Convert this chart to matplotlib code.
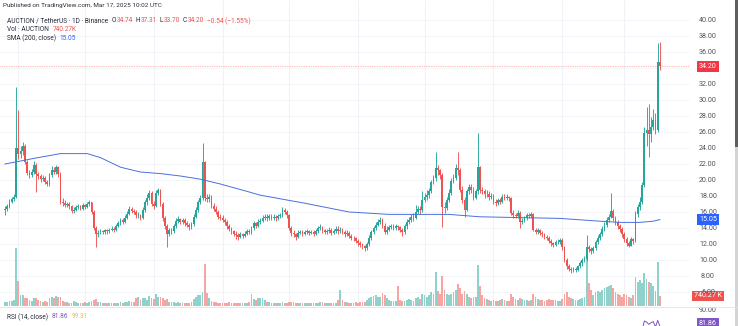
import matplotlib
matplotlib.use("Agg")
import matplotlib.pyplot as plt
import numpy as np
import pandas as pd
from matplotlib.patches import Rectangle

# ---------------- data ----------------
end_date = "2025-03-17"
first_open = 16.2

closes = [
    16.4, 16.7, 17.3, 17.6, 17.9, 24.0, 23.2, 23.6, 24.2, 22.2,
    20.9, 20.6, 21.0, 21.9, 20.8, 20.5, 20.1, 20.3, 19.8, 19.5,
    20.6, 21.3, 21.0, 21.6, 20.8, 17.3, 17.1, 16.9, 17.0, 16.7,
    16.1, 16.3, 16.6, 16.7, 16.4, 16.9, 16.6, 17.0, 17.2, 16.0,
    14.0, 13.2, 13.4, 13.6, 13.5, 13.7, 13.6, 13.8, 13.9, 13.8,
    14.3, 14.6, 15.0, 14.8, 15.3, 15.8, 16.4, 16.1, 16.0, 15.6,
    15.6, 15.3, 16.3, 17.2, 17.8, 18.4, 17.0, 16.8, 18.4, 18.7,
    17.0, 15.2, 14.2, 13.3, 13.7, 13.6, 14.2, 14.9, 15.1, 14.8,
    15.0, 14.6, 14.4, 14.1, 14.5, 15.4, 16.3, 17.2, 17.8, 22.2,
    17.8, 17.6, 17.9, 16.8, 16.4, 16.0, 15.4, 15.3, 15.0, 14.7,
    14.2, 13.9, 13.6, 13.3, 13.1, 12.9, 13.2, 13.0, 13.3, 13.6,
    13.5, 14.0, 14.6, 14.3, 14.8, 14.9, 15.3, 15.4, 15.2, 15.5,
    15.3, 15.4, 15.2, 15.5, 15.6, 16.3, 16.0, 15.6, 14.0, 13.4,
    13.2, 12.9, 13.4, 13.5, 13.3, 13.5, 13.6, 13.4, 13.5, 13.3,
    13.6, 14.0, 14.1, 13.7, 13.5, 13.6, 13.8, 13.4, 13.6, 13.9,
    13.6, 13.8, 13.5, 13.2, 13.4, 13.0, 12.8, 12.7, 12.4, 12.1,
    11.9, 11.7, 11.5, 12.0, 12.8, 13.5, 14.0, 14.4, 14.8, 15.0,
    14.3, 13.5, 13.8, 14.1, 14.2, 14.0, 14.2, 14.1, 13.8, 13.5,
    14.2, 14.8, 15.0, 15.4, 15.3, 16.0, 16.4, 16.2, 17.5, 17.9,
    18.1, 18.6, 19.7, 20.2, 21.5, 21.2, 20.6, 16.6, 16.5, 17.5,
    18.4, 19.9, 20.3, 21.5, 21.2, 18.8, 17.5, 16.3, 18.6, 19.1,
    18.8, 17.8, 18.6, 21.6, 18.8, 18.6, 18.2, 18.3, 17.9, 18.0,
    17.3, 17.1, 17.5, 17.3, 17.9, 17.8, 17.9, 17.7, 15.9, 15.6,
    15.5, 15.9, 14.7, 14.9, 15.2, 15.6, 15.5, 15.7, 13.8, 13.5,
    13.7, 13.4, 13.2, 12.9, 12.8, 12.4, 12.1, 11.9, 12.2, 12.3,
    12.5, 11.6, 10.0, 9.2, 8.9, 8.7, 8.8, 8.8, 9.2, 9.6,
    10.0, 10.1, 11.6, 11.4, 11.1, 11.5, 12.2, 12.8, 13.2, 13.9,
    14.4, 15.0, 15.4, 16.1, 15.2, 14.7, 14.2, 13.9, 13.2, 12.6,
    12.1, 11.8, 12.6, 12.4, 15.8, 16.6, 17.3, 19.4, 25.9, 26.3,
    25.7, 26.6, 27.5, 26.3, 34.74, 34.20,
]

highs = [
    16.7, 17.0, 17.6, 17.9, 18.3, 31.6, 28.8, 24.3, 24.7, 24.5,
    22.5, 21.3, 21.4, 22.4, 22.1, 21.0, 20.7, 20.6, 20.5, 20.0,
    20.9, 21.7, 21.6, 21.9, 21.8, 21.0, 17.7, 17.5, 17.3, 17.2,
    16.9, 16.6, 16.9, 17.0, 16.9, 17.1, 17.0, 17.3, 17.5, 17.3,
    16.2, 14.3, 13.7, 13.9, 13.8, 13.9, 13.9, 14.0, 14.2, 14.1,
    14.5, 14.9, 15.3, 15.2, 15.6, 16.1, 16.8, 16.6, 16.4, 16.2,
    16.0, 15.8, 16.6, 17.5, 18.2, 18.8, 18.6, 17.4, 18.7, 19.0,
    18.9, 17.2, 15.5, 14.5, 14.0, 14.0, 14.5, 15.2, 15.5, 15.3,
    15.3, 15.2, 14.9, 14.6, 14.8, 15.7, 16.6, 17.5, 18.1, 24.6,
    22.4, 18.2, 18.2, 18.1, 17.1, 16.7, 16.3, 15.8, 15.6, 15.3,
    15.0, 14.5, 14.1, 13.8, 13.6, 13.4, 13.5, 13.4, 13.6, 13.9,
    13.9, 14.3, 14.9, 14.8, 15.1, 15.3, 15.6, 15.8, 15.7, 15.8,
    15.8, 15.7, 15.6, 15.8, 15.9, 16.6, 16.5, 16.2, 15.8, 14.3,
    13.7, 13.4, 13.7, 13.8, 13.7, 13.8, 13.9, 13.8, 13.8, 13.7,
    13.9, 14.3, 14.5, 14.3, 13.9, 13.9, 14.1, 14.0, 13.9, 14.2,
    14.2, 14.1, 14.0, 13.8, 13.7, 13.6, 13.2, 13.0, 12.9, 12.6,
    12.4, 12.1, 11.9, 12.3, 13.1, 13.8, 14.3, 14.8, 15.1, 15.4,
    15.3, 14.6, 14.2, 14.4, 14.5, 14.5, 14.5, 14.4, 14.3, 14.0,
    14.5, 15.1, 15.4, 15.8, 15.9, 16.9, 16.8, 16.7, 18.6, 18.4,
    18.8, 19.0, 20.0, 20.6, 23.5, 21.9, 21.4, 20.9, 17.3, 17.9,
    18.9, 20.2, 20.8, 22.0, 23.5, 21.5, 19.2, 17.9, 18.9, 19.5,
    19.5, 19.1, 18.9, 25.9, 21.8, 19.1, 18.9, 18.7, 18.6, 18.4,
    18.3, 17.6, 17.8, 17.7, 18.2, 18.2, 18.2, 18.0, 17.9, 16.2,
    15.9, 16.2, 16.1, 15.2, 15.5, 15.9, 15.9, 16.0, 15.9, 14.0,
    14.0, 13.9, 13.6, 13.4, 13.1, 13.0, 12.6, 12.3, 12.5, 12.6,
    12.8, 12.7, 11.8, 10.2, 9.5, 9.1, 9.1, 9.1, 9.4, 9.9,
    10.3, 10.5, 13.1, 11.9, 11.6, 11.8, 12.5, 13.1, 13.5, 14.2,
    14.7, 15.4, 15.8, 18.4, 16.4, 15.5, 15.0, 14.5, 14.1, 13.5,
    12.9, 12.4, 12.9, 12.8, 16.1, 17.0, 17.9, 19.8, 26.6, 29.1,
    29.5, 27.9, 28.9, 28.4, 37.1, 37.31,
]

lows = [
    15.6, 16.1, 16.5, 17.1, 17.4, 17.7, 22.6, 22.8, 23.1, 22.0,
    20.6, 20.3, 20.4, 20.7, 18.5, 20.1, 19.8, 19.9, 19.5, 19.2,
    19.3, 20.4, 20.7, 20.8, 20.4, 17.0, 16.8, 16.6, 16.6, 16.4,
    15.9, 15.9, 16.1, 16.4, 16.2, 16.3, 16.4, 16.5, 16.8, 15.8,
    13.8, 11.6, 12.9, 13.2, 13.2, 13.3, 13.3, 13.4, 13.6, 13.5,
    13.6, 14.1, 14.4, 14.5, 14.6, 15.1, 15.6, 15.9, 15.7, 15.3,
    15.2, 15.0, 15.1, 16.0, 16.9, 17.5, 16.7, 16.4, 16.6, 18.1,
    16.8, 14.9, 13.9, 11.6, 13.0, 13.2, 13.4, 14.0, 14.6, 14.5,
    14.5, 14.3, 14.1, 13.8, 13.9, 14.3, 15.2, 16.0, 17.0, 17.5,
    17.4, 17.2, 17.3, 16.5, 16.1, 15.7, 15.1, 15.0, 14.7, 14.4,
    13.9, 13.6, 13.3, 13.0, 12.6, 12.5, 12.7, 12.7, 12.9, 13.1,
    13.2, 13.3, 13.8, 14.0, 14.1, 14.5, 14.7, 15.0, 14.9, 15.0,
    15.0, 15.0, 14.9, 15.0, 15.3, 15.4, 15.7, 15.3, 13.8, 13.0,
    12.9, 12.5, 12.8, 13.2, 13.0, 13.1, 13.3, 13.1, 13.2, 13.0,
    13.1, 13.4, 13.8, 13.4, 13.2, 13.2, 13.4, 13.1, 13.2, 13.4,
    13.3, 13.4, 13.2, 12.9, 13.0, 12.7, 12.5, 12.4, 12.1, 11.8,
    11.6, 11.4, 11.1, 11.3, 11.8, 12.5, 13.3, 13.8, 14.2, 14.5,
    14.0, 13.2, 13.3, 13.6, 13.9, 13.7, 13.8, 13.8, 13.5, 13.0,
    13.3, 13.9, 14.5, 14.8, 14.9, 15.1, 15.7, 15.8, 16.0, 17.2,
    17.5, 17.8, 18.4, 19.5, 19.9, 20.6, 20.1, 14.1, 15.9, 16.2,
    17.2, 18.1, 19.6, 20.0, 20.6, 18.5, 17.1, 15.4, 16.1, 18.3,
    18.4, 17.5, 17.6, 18.3, 18.4, 18.2, 17.8, 17.9, 17.5, 17.6,
    17.0, 16.8, 16.9, 17.0, 17.1, 17.5, 17.5, 17.4, 15.6, 15.3,
    15.2, 15.3, 14.0, 14.5, 14.7, 15.0, 15.2, 15.3, 13.6, 13.2,
    13.2, 13.1, 12.9, 12.6, 12.5, 12.1, 11.8, 11.6, 11.7, 12.0,
    12.0, 11.3, 9.7, 8.9, 8.6, 8.4, 8.5, 8.5, 8.6, 9.0,
    9.3, 9.7, 9.9, 11.0, 10.7, 10.9, 11.3, 12.0, 12.5, 13.0,
    13.6, 14.1, 14.7, 15.2, 14.9, 14.4, 13.9, 13.5, 12.9, 12.3,
    11.8, 11.6, 11.7, 12.0, 12.2, 15.4, 16.2, 17.0, 19.1, 24.2,
    22.9, 24.8, 26.2, 25.8, 26.0, 33.70,
]

volumes_k = [
    330, 300, 380, 350, 420, 4300, 1850, 820, 780, 620,
    560, 450, 400, 580, 600, 420, 350, 300, 380, 330,
    600, 700, 560, 740, 650, 700, 380, 300, 260, 240,
    250, 370, 260, 220, 230, 250, 260, 240, 280, 350,
    420, 520, 330, 260, 240, 220, 210, 200, 230, 220,
    240, 220, 260, 230, 260, 300, 380, 330, 280, 560,
    700, 480, 620, 560, 450, 740, 600, 520, 880, 700,
    650, 600, 480, 520, 330, 280, 260, 240, 300, 230,
    220, 240, 210, 250, 300, 520, 700, 840, 780, 1050,
    3100, 960, 600, 400, 300, 260, 240, 230, 220, 200,
    240, 260, 220, 230, 210, 250, 240, 220, 200, 230,
    260, 880, 500, 430, 600, 560, 600, 430, 300, 280,
    230, 250, 220, 240, 230, 260, 240, 220, 280, 300,
    260, 250, 230, 220, 210, 230, 240, 220, 200, 230,
    220, 240, 300, 260, 230, 210, 220, 240, 230, 200,
    450, 1200, 420, 280, 260, 240, 230, 250, 260, 240,
    270, 260, 300, 420, 620, 700, 740, 800, 650, 700,
    960, 800, 600, 420, 380, 350, 400, 1480, 420, 380,
    400, 450, 500, 420, 380, 600, 650, 550, 900, 800,
    700, 800, 1000, 900, 2500, 1100, 900, 2200, 1200, 900,
    800, 900, 1000, 1200, 1600, 1300, 900, 1100, 900, 700,
    600, 700, 650, 3000, 1500, 800, 600, 500, 450, 400,
    450, 400, 380, 420, 500, 450, 400, 380, 900, 700,
    500, 450, 600, 500, 450, 420, 400, 450, 900, 700,
    500, 450, 420, 400, 450, 500, 480, 450, 420, 400,
    380, 500, 900, 1000, 700, 600, 500, 450, 420, 500,
    600, 700, 3600, 1700, 1200, 800, 1000, 1100, 1000, 1200,
    1300, 1400, 1500, 1550, 1300, 1000, 900, 800, 700, 900,
    800, 700, 600, 800, 2150, 1800, 1900, 1700, 2450, 2000,
    1800, 1700, 1500, 1100, 3250, 740.27,
]

sma_idx = [0, 13, 25, 37, 43, 52, 61, 70, 79, 88, 97, 110, 115, 135,
           155, 173, 191, 200, 214, 232, 250, 268, 277, 286, 292, 295]
sma_vals = [22.0, 22.7, 23.3, 23.3, 22.8, 21.6, 21.0, 20.8, 20.5, 20.1,
            19.5, 18.5, 18.1, 17.1, 16.0, 15.7, 15.7, 15.7, 15.4, 15.3,
            15.2, 14.85, 14.7, 14.7, 14.85, 15.05]

rsi_idx = [286, 287, 288, 289, 290, 291, 292, 293, 294, 295]
rsi_vals = [76.0, 80.0, 84.5, 84.0, 82.8, 83.6, 84.2, 81.5, 84.8, 81.86]

price_ticks = [40, 38, 36, 32, 30, 28, 26, 24, 22, 20, 18, 16, 14, 12, 10, 8, 6]
last_price = 34.20
sma_last = 15.05
vol_last_k = 740.27
rsi_last = 81.86
rsi_ma_last = 99.31

# ---------------- layout ----------------
W, H, DPI = 738, 326, 100
PANE_R = 690
PRICE_BOT = 306
RSI_TOP = 307
X0, DX = 5.0, 2.22
Y40, PPU = 20.0, 8.0
VOL_PER_PX = 74.0
LABEL_X = 708

GREEN = "#26a69a"
RED = "#ef5350"
VGREEN = "#8fd1cb"
VRED = "#f6a5a3"
TXT = "#2a2e39"
AXTXT = "#50535e"
FONT = "Roboto"
FS_AX = 5.1
FS_LEG = 4.7
BODY_W = 0.8

plt.rcParams["font.family"] = [FONT, "DejaVu Sans"]

fig = plt.figure(figsize=(W / DPI, H / DPI), dpi=DPI)
fig.patch.set_facecolor("white")


def rect(x0, y0, x1, y1):
    return [x0 / W, 1 - y1 / H, (x1 - x0) / W, (y1 - y0) / H]


n = len(closes)
idx = np.arange(n)
opens = [first_open] + closes[:-1]
dates = pd.date_range(end=end_date, periods=n, freq="D")
month_idx = idx[dates.day == 1]

xlo = -X0 / DX
xhi = (PANE_R - X0) / DX
ylo = 40 - (PRICE_BOT - Y40) / PPU
yhi = 40 + Y40 / PPU

ax_g = fig.add_axes(rect(0, 0, PANE_R, PRICE_BOT))
ax_v = fig.add_axes(rect(0, 0, PANE_R, PRICE_BOT))
ax = fig.add_axes(rect(0, 0, PANE_R, PRICE_BOT))
for a in (ax_g, ax_v, ax):
    a.set_xlim(xlo, xhi)
    a.axis("off")
    a.patch.set_visible(False)
ax_g.set_ylim(ylo, yhi)
ax.set_ylim(ylo, yhi)
ax_v.set_ylim(0, VOL_PER_PX * PRICE_BOT)

# grid
ax_g.vlines(month_idx, ylo, yhi, color="#f0f2f7", lw=0.8)
ax_g.hlines(np.arange(6, 42, 2), xlo, xhi, color="#f3f4f8", lw=0.6)

# volume
up = np.array(closes) >= np.array(opens)
ax_v.bar(idx, volumes_k, width=BODY_W, color=np.where(up, VGREEN, VRED), linewidth=0)

# candles
ccol = np.where(up, GREEN, RED)
ax.vlines(idx, lows, highs, colors=ccol, lw=0.65)
body_b = np.minimum(opens, closes)
body_h = np.maximum(np.abs(np.array(closes) - np.array(opens)), 0.08)
ax.bar(idx, body_h, bottom=body_b, width=BODY_W, color=ccol, linewidth=0)

# SMA
ax.plot(sma_idx, sma_vals, color="#4a6fe0", lw=0.7)

# last price line
ax.axhline(last_price, color=RED, lw=0.5, ls=(0, (1, 1.5)), alpha=0.8)

# right price scale labels
ytr = ax.get_yaxis_transform()
lx = LABEL_X / PANE_R
for p in price_ticks:
    ax.text(lx, p, f"{p:.2f}", transform=ytr, ha="center", va="center",
            fontsize=FS_AX, color=AXTXT, clip_on=False)


def box_label(a, yv, s, fc, trans):
    a.text(lx, yv, s, transform=trans, ha="center", va="center", fontsize=FS_AX,
           color="white", clip_on=False, zorder=5,
           bbox=dict(boxstyle="square,pad=0.25", fc=fc, ec="none"))


box_label(ax, last_price, f"{last_price:.2f}", "#f23645", ytr)
box_label(ax, sma_last, f"{sma_last:.2f}", "#2962ff", ytr)
box_label(ax_v, vol_last_k, f"{vol_last_k:.2f} K", "#ef5350", ax_v.get_yaxis_transform())

# separator between panes
fig.add_artist(plt.Line2D([0, 1], [1 - 306.5 / H] * 2, color="#e0e3eb", lw=0.6))

# RSI pane
ax_r = fig.add_axes(rect(0, RSI_TOP, PANE_R, H))
ax_r.set_xlim(xlo, xhi)
rsi_top = 90 + (310 - RSI_TOP) / 2.0
ax_r.set_ylim(rsi_top - (H - RSI_TOP) / 2.0, rsi_top)
ax_r.axis("off")
ax_r.patch.set_visible(False)
ax_r.plot(rsi_idx, rsi_vals, color="#7e57c2", lw=0.7)
rtr = ax_r.get_yaxis_transform()
ax_r.text(lx, 90, "90.00", transform=rtr, ha="center", va="center",
          fontsize=FS_AX, color=AXTXT, clip_on=False)
box_label(ax_r, rsi_last + 1.5, f"{rsi_last:.2f}", "#7e57c2", rtr)

# header & legends
fig.canvas.draw()
renderer = fig.canvas.get_renderer()


def chain(parts, x, y, fs=FS_LEG):
    for s, c, gap in parts:
        x += gap
        t = fig.text(x / W, 1 - y / H, s, color=c, fontsize=fs, va="center", ha="left")
        bb = t.get_window_extent(renderer)
        x = bb.x1


chain([("Published on TradingView.com, Mar 17, 2025 10:02 UTC", TXT, 0)], 3, 6, fs=4.6)
chain([("AUCTION / TetherUS · 1D · Binance", TXT, 0), ("O", TXT, 3.5), ("34.74", RED, 0.3),
       ("H", TXT, 3.0), ("37.31", RED, 0.3), ("L", TXT, 3.0), ("33.70", RED, 0.3),
       ("C", TXT, 3.0), ("34.20", RED, 0.3), ("\u22120.54 (\u22121.55%)", RED, 3.0)], 7, 21)
chain([("Vol · AUCTION", TXT, 0), ("740.27K", RED, 3.5)], 7, 29.5)
chain([("SMA (200, close)", TXT, 0), ("15.05", "#2962ff", 3.5)], 7, 38)
chain([("RSI (14, close)", TXT, 0), ("81.86", "#7e57c2", 3.5), ("99.31", "#e6c23a", 3.5)], 7, 317)

# right edge bar
fig.add_artist(Rectangle((735 / W, 1 - 147 / H), 3 / W, 147 / H,
                         transform=fig.transFigure, fc="#5f5f5f", ec="none"))
fig.add_artist(Rectangle((735 / W, 0), 3 / W, 1 - 147 / H,
                         transform=fig.transFigure, fc="#d4d4d4", ec="none"))

fig.savefig("out.png", dpi=DPI)
